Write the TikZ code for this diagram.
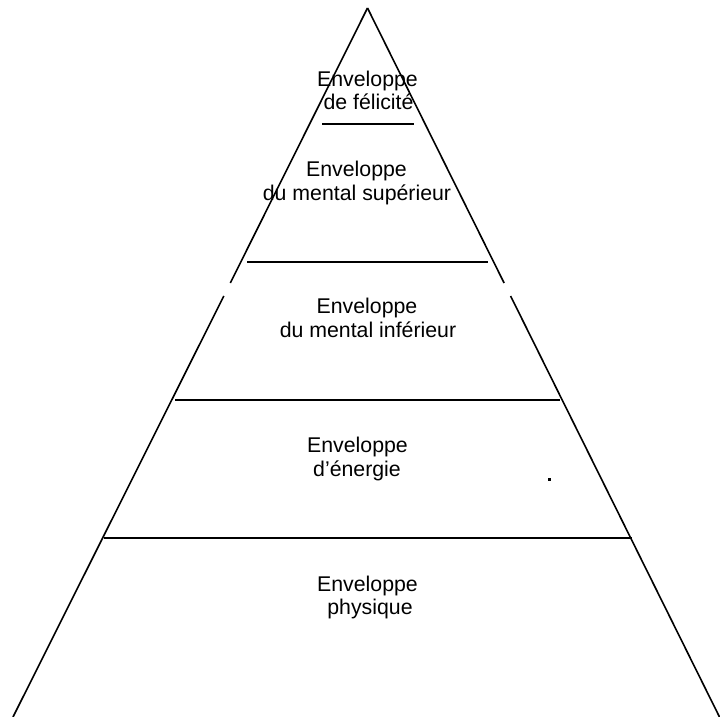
\documentclass[tikz,border=0pt]{standalone}
\usepackage{fontspec}
\setmainfont{Liberation Sans}
\begin{document}
\begin{tikzpicture}[x=1pt,y=-1pt,
  edge/.style={line width=1.6pt,line cap=butt},
  lbl/.style={anchor=base,inner sep=0pt,font=\fontsize{21.3}{24}\selectfont}]
\useasboundingbox (0,0) rectangle (720,717);
% triangle sides
\coordinate (apex) at (367.5,8);
\coordinate (bl) at (13,717);
\coordinate (br) at (719.5,717);
\coordinate (l1) at (230.3,283);
\coordinate (l2) at (223.8,296);
\coordinate (r1) at (504.1,283);
\coordinate (r2) at (510.6,296);
\draw[edge] (apex) -- (l1);
\draw[edge] (l2) -- (bl);
\draw[edge] (apex) -- (r1);
\draw[edge] (r2) -- (br);
% horizontal lines
\coordinate (h1a) at (322,124); \coordinate (h1b) at (414,124);
\coordinate (h2a) at (247,262); \coordinate (h2b) at (488,262);
\coordinate (h3a) at (175,400); \coordinate (h3b) at (560,400);
\coordinate (h4a) at (104,538); \coordinate (h4b) at (632,538);
\draw[edge] (h1a) -- (h1b);
\draw[edge] (h2a) -- (h2b);
\draw[edge] (h3a) -- (h3b);
\draw[edge] (h4a) -- (h4b);
% labels
\node[lbl] (t1a) at (367.5,86) {Enveloppe};
\node[lbl] (t1b) at (368.5,110) {de félicité};
\node[lbl] (t2a) at (356.5,176.5) {Enveloppe};
\node[lbl] (t2b) at (357,200.5) {du mental supérieur};
\node[lbl] (t3a) at (367,313) {Enveloppe};
\node[lbl] (t3b) at (368,337.5) {du mental inférieur};
\node[lbl] (t4a) at (357.5,452) {Enveloppe};
\node[lbl] (t4b) at (357,476) {d’énergie};
\node[lbl] (t5a) at (367.5,591) {Enveloppe};
\node[lbl] (t5b) at (370,614.5) {physique};
% small dot
\fill (547.7,478.2) rectangle (550.7,481);
\end{tikzpicture}
\end{document}
